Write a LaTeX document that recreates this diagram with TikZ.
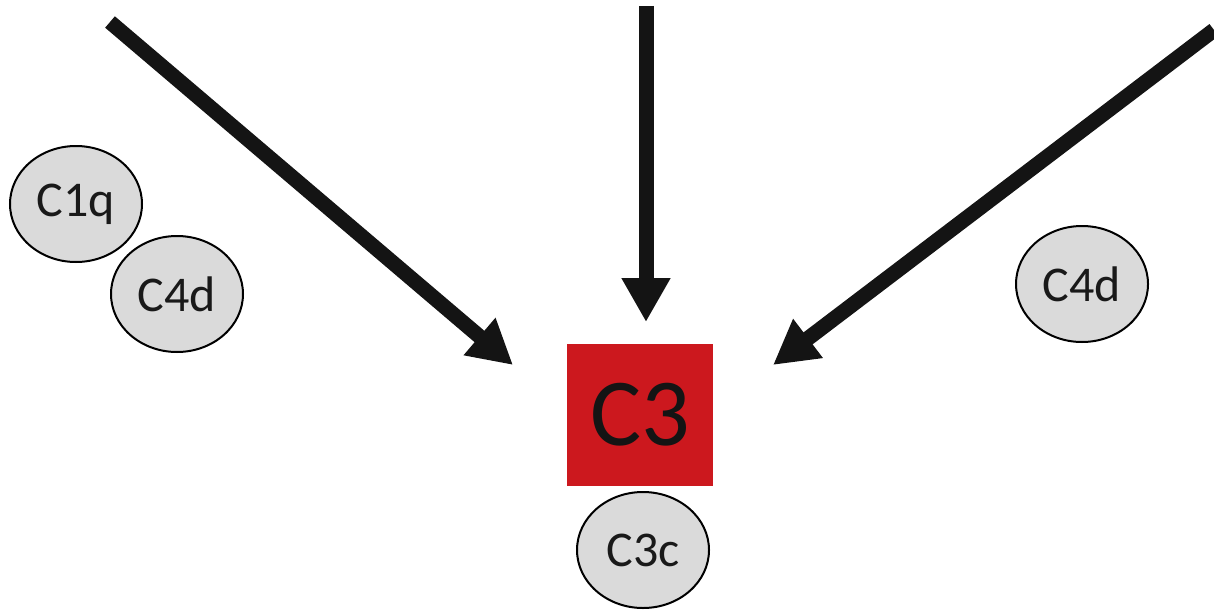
\documentclass[tikz,border=0pt]{standalone}
\usepackage{fontspec}
\setmainfont{Carlito}
\usetikzlibrary{shapes.geometric,arrows.meta}
\definecolor{cthreered}{HTML}{CC181E}
\definecolor{cgrey}{HTML}{DADADA}
\begin{document}
\begin{tikzpicture}[x=1pt,y=-1pt,
  comp/.style={ellipse,draw=black,line width=2pt,fill=cgrey,inner sep=0pt,
    minimum width=132pt,minimum height=116pt,
    font=\fontsize{50}{50}\selectfont,text=black!90},
  bigarrow/.style={line width=15pt,black!92,-{Triangle[length=44pt,width=46pt]}}]
\useasboundingbox (0,0) rectangle (1214,610);
\node[comp] (c1q) at (76,204) {C1q};
\node[comp] (c4dl) at (177,294) {C4d};
\node[comp] (c4dr) at (1082,284) {C4d};
\node[comp] (c3c) at (643,550) {C3c};
\node[fill=cthreered,minimum width=146pt,minimum height=142pt,inner sep=0pt,
  font=\fontsize{96}{96}\selectfont,text=black!92] (c3) at (640,415) {C3};
\coordinate (ls) at (110,22);
\coordinate (le) at (513,365);
\coordinate (ms) at (646,6);
\coordinate (me) at (646,322);
\coordinate (rs) at (1214,30);
\coordinate (re) at (773,365);
\draw[bigarrow] (ls) -- (le);
\draw[bigarrow] (ms) -- (me);
\draw[bigarrow] (rs) -- (re);
\end{tikzpicture}
\end{document}
